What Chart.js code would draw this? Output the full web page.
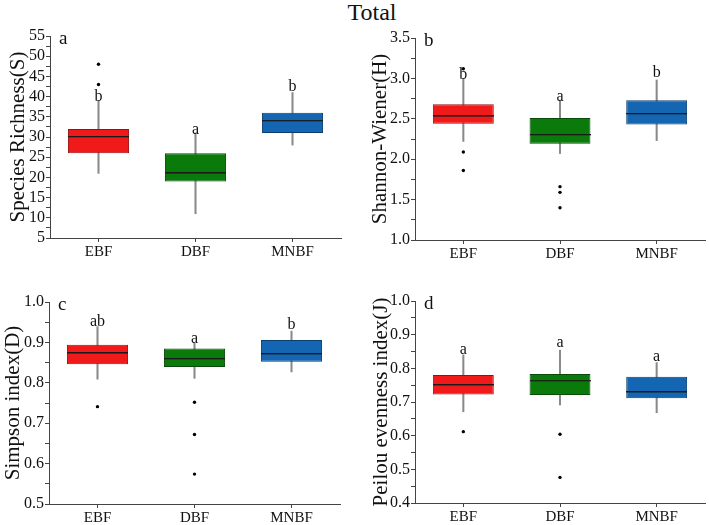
<!DOCTYPE html>
<html><head><meta charset="utf-8">
<script src="https://cdn.jsdelivr.net/npm/chart.js@4"></script>
<style>
html,body{margin:0;padding:0;background:#fff}
body{width:709px;height:525px;overflow:hidden;position:relative;font-family:"Liberation Serif","Times New Roman",serif}
canvas{position:absolute}
#title{position:absolute;left:272px;width:200px;top:0px;text-align:center;font-size:24px;line-height:24px;color:#111}
</style></head>
<body>
<div id="title">Total</div>
<script>
const categories = ['EBF','DBF','MNBF'];

// (a) Species Richness
const richQ1 = [26, 19, 31];
const richQ3 = [32, 26, 36];
const richMed = [30, 21, 34];
const richLo = [21, 11, 28];
const richHi = [39, 31, 41];
const richOutCat = ['EBF','EBF'];
const richOutVal = [43, 48];
const richLetters = ['b','a','b'];
const richLetterVal = [39.9, 31.8, 42.5];
const richTicks = {min:5, max:55, major:5, minor:2.5, dec:0};

// (b) Shannon-Wiener
const shanQ1 = [2.44, 2.19, 2.43];
const shanQ3 = [2.68, 2.51, 2.73];
const shanMed = [2.53, 2.30, 2.56];
const shanLo = [2.22, 2.07, 2.23];
const shanHi = [3.0, 2.73, 2.98];
const shanOutCat = ['EBF','EBF','EBF','DBF','DBF','DBF'];
const shanOutVal = [3.12, 2.09, 1.86, 1.66, 1.59, 1.40];
const shanLetters = ['b','a','b'];
const shanLetterVal = [3.04, 2.77, 3.07];
const shanTicks = {min:1.0, max:3.5, major:0.5, minor:0.25, dec:1};

// (c) Simpson
const simpQ1 = [0.846, 0.839, 0.852];
const simpQ3 = [0.894, 0.885, 0.906];
const simpMed = [0.873, 0.859, 0.871];
const simpLo = [0.809, 0.811, 0.827];
const simpHi = [0.939, 0.898, 0.928];
const simpOutCat = ['EBF','DBF','DBF','DBF'];
const simpOutVal = [0.741, 0.752, 0.672, 0.574];
const simpLetters = ['ab','a','b'];
const simpLetterVal = [0.950, 0.908, 0.943];
const simpTicks = {min:0.5, max:1.0, major:0.1, minor:0.05, dec:1};

// (d) Peilou evenness
const peilQ1 = [0.722, 0.721, 0.711];
const peilQ3 = [0.780, 0.783, 0.775];
const peilMed = [0.750, 0.763, 0.729];
const peilLo = [0.671, 0.691, 0.668];
const peilHi = [0.840, 0.854, 0.817];
const peilOutCat = ['EBF','DBF','DBF'];
const peilOutVal = [0.612, 0.604, 0.476];
const peilLetters = ['a','a','a'];
const peilLetterVal = [0.854, 0.876, 0.833];
const peilTicks = {min:0.4, max:1.0, major:0.1, minor:0.05, dec:1};

const fills = ['#f01a1a', '#0a7a0a', '#1466b2'];
const edges = ['#9a1010', '#0a4a0a', '#0b3d6e'];
const FONT = '"Liberation Serif","Times New Roman",serif';

const panels = [
  {tag:'a', ytitle:'Species Richness(S)', q1:richQ1, q3:richQ3, med:richMed, lo:richLo, hi:richHi, outCat:richOutCat, outVal:richOutVal, letters:richLetters, letterVal:richLetterVal, t:richTicks,
   left:0, top:25, w:350, h:240, yw:50, xh:27, padTop:11, padRight:9, titlePad:6},
  {tag:'b', ytitle:'Shannon-Wiener(H)', q1:shanQ1, q3:shanQ3, med:shanMed, lo:shanLo, hi:shanHi, outCat:shanOutCat, outVal:shanOutVal, letters:shanLetters, letterVal:shanLetterVal, t:shanTicks,
   left:350, top:25, w:359, h:240, yw:65, xh:25, padTop:13, padRight:4, titlePad:18},
  {tag:'c', ytitle:'Simpson index(D)', q1:simpQ1, q3:simpQ3, med:simpMed, lo:simpLo, hi:simpHi, outCat:simpOutCat, outVal:simpOutVal, letters:simpLetters, letterVal:simpLetterVal, t:simpTicks,
   left:0, top:285, w:350, h:240, yw:49, xh:21, padTop:17, padRight:10, titlePad:1},
  {tag:'d', ytitle:'Peilou evenness index(J)', q1:peilQ1, q3:peilQ3, med:peilMed, lo:peilLo, hi:peilHi, outCat:peilOutCat, outVal:peilOutVal, letters:peilLetters, letterVal:peilLetterVal, t:peilTicks,
   left:350, top:285, w:359, h:240, yw:65, xh:22, padTop:16, padRight:4, titlePad:19}
];

// median marker: a short horizontal stroke used as point style
const medianMark = document.createElement('canvas');
medianMark.width = 61; medianMark.height = 2;
(function(){ const c = medianMark.getContext('2d'); c.fillStyle = '#1a1a1a'; c.fillRect(0, 0, 61, 1.3); })();

const annotPlugin = {
  id:'annot',
  afterDatasetsDraw(chart){
    const p = chart.options.plugins.annot;
    const ctx = chart.ctx, xs = chart.scales.x, ys = chart.scales.y, ca = chart.chartArea;
    ctx.save();
    ctx.fillStyle = '#111';
    ctx.textAlign = 'center';
    ctx.textBaseline = 'middle';
    ctx.font = '16px ' + FONT;
    p.letters.forEach((l, i) => {
      ctx.fillText(l, xs.getPixelForValue(i), ys.getPixelForValue(p.letterVal[i]));
    });
    ctx.font = '19px ' + FONT;
    ctx.textAlign = 'left';
    ctx.fillText(p.tag, ca.left + 9, ca.top + 3);
    ctx.restore();
  }
};

function isMajor(v, t){
  const r = (v - t.min) / t.major;
  return Math.abs(r - Math.round(r)) < 1e-6;
}

panels.forEach(p => {
  const cv = document.createElement('canvas');
  cv.width = p.w; cv.height = p.h;
  cv.style.left = p.left + 'px'; cv.style.top = p.top + 'px';
  cv.style.width = p.w + 'px'; cv.style.height = p.h + 'px';
  document.body.appendChild(cv);
  new Chart(cv, {
    type:'bar',
    data:{
      labels:categories,
      datasets:[
        {type:'bar', data:p.lo.map((v,i)=>[v, p.hi[i]]), backgroundColor:'#8a8a8a', barThickness:1.4, grouped:false, order:3},
        {type:'bar', data:p.q1.map((v,i)=>[v, p.q3[i]]), backgroundColor:fills, borderColor:edges, borderWidth:1, borderSkipped:false, barPercentage:0.63, categoryPercentage:1, grouped:false, order:2},
        {type:'line', data:p.med, showLine:false, pointStyle:medianMark, pointRadius:1, pointHoverRadius:1, pointBorderWidth:0, order:1},
        {type:'line', data:p.outCat.map((c,i)=>({x:c, y:p.outVal[i]})), showLine:false, pointStyle:'circle', pointRadius:1.7, pointHoverRadius:1.7, pointBackgroundColor:'#000', pointBorderColor:'#000', pointBorderWidth:0, order:0}
      ]
    },
    options:{
      responsive:false, animation:false, events:[],
      layout:{padding:{top:p.padTop, right:p.padRight, left:0, bottom:0}},
      plugins:{legend:{display:false}, tooltip:{enabled:false}, title:{display:false},
        annot:{letters:p.letters, letterVal:p.letterVal, tag:p.tag}},
      scales:{
        x:{
          offset:true,
          grid:{display:true, drawOnChartArea:false, offset:false, tickLength:4, color:'#444', tickWidth:1},
          border:{display:true, color:'#444', width:1},
          ticks:{color:'#111', font:{family:FONT, size:15}, padding:1, maxRotation:0},
          afterFit(s){ s.height = p.xh; }
        },
        y:{
          min:p.t.min, max:p.t.max,
          grid:{display:true, drawOnChartArea:false, tickLength:4, color:'#444', tickWidth:1},
          border:{display:true, color:'#444', width:1},
          ticks:{stepSize:p.t.minor, autoSkip:false, color:'#111', font:{family:FONT, size:16}, padding:1,
            callback:(v)=> isMajor(v, p.t) ? Number(v).toFixed(p.t.dec) : ''},
          title:{display:true, text:p.ytitle, color:'#111', font:{family:FONT, size:21}, padding:{top:p.titlePad, bottom:0}},
          afterFit(s){ s.width = p.yw; }
        }
      }
    },
    plugins:[annotPlugin]
  });
});
</script>
</body></html>
